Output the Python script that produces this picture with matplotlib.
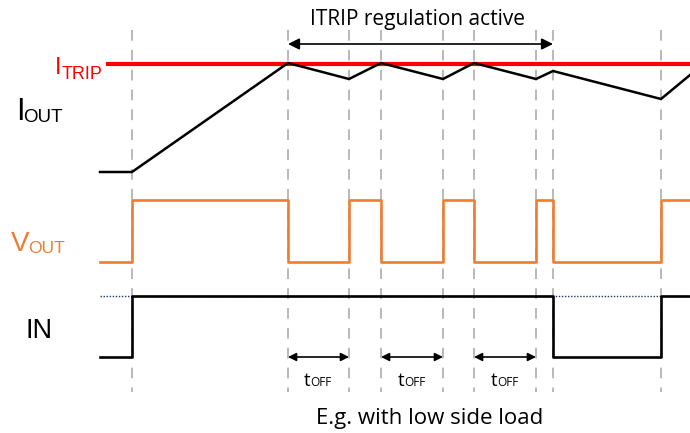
import matplotlib.pyplot as plt

# time marks (x in px) and signal values (y in px)
t_marks = [132, 288, 349, 381, 443, 474, 536, 553, 661]
t_start, t_end = 100, 690

iout_t = [100, 132, 288, 349, 381, 443, 474, 536, 553, 661, 690]
iout_y = [172, 172, 63, 79, 63, 79, 63, 79, 71, 99, 75]
itrip_y = 64

vout_t = [100, 132, 288, 349, 381, 443, 474, 536, 553, 661, 690]
vout_s = [0, 1, 0, 1, 0, 1, 0, 1, 0, 1, 1]
vout_lo, vout_hi = 262, 200

in_t = [100, 132, 553, 661, 690]
in_s = [0, 1, 0, 1, 1]
in_lo, in_hi = 357, 296

toff_spans = [(288, 349), (381, 443), (474, 536)]
active_span = (288, 553)

RED = '#FF0000'
ORANGE = '#ED7D31'
GREY = '#A6A6A6'

fig = plt.figure(figsize=(6.9, 4.33), dpi=100)
ax = fig.add_axes([0, 0, 1, 1])
ax.set_xlim(0, 690)
ax.set_ylim(433, 0)
ax.axis('off')

# dashed time markers
for t in t_marks:
    ax.plot([t, t], [30, 392], color=GREY, lw=1.1, dashes=(7, 6), zorder=1)

# ITRIP threshold
ax.plot([108, t_end], [itrip_y, itrip_y], color=RED, lw=3, zorder=2)

# IOUT
ax.plot(iout_t, iout_y, color='black', lw=1.8, zorder=3, solid_joinstyle='miter')

# VOUT
vy = [vout_hi if s else vout_lo for s in vout_s]
ax.step(vout_t, vy, where='post', color=ORANGE, lw=1.9, zorder=3)

# IN + dotted high reference
ax.plot([t_start, t_end], [in_hi, in_hi], color='#1F3864', lw=1.0, ls=(0, (1, 1.2)), zorder=2)
iy = [in_hi if s else in_lo for s in in_s]
ax.step(in_t, iy, where='post', color='black', lw=1.9, zorder=3)

# arrows
ax.annotate('', xy=(active_span[0], 44), xytext=(active_span[1], 44),
            arrowprops=dict(arrowstyle='<|-|>', color='black', lw=1.2,
                            mutation_scale=17, shrinkA=0, shrinkB=0))
for a, b in toff_spans:
    ax.annotate('', xy=(a, 357), xytext=(b, 357),
                arrowprops=dict(arrowstyle='<|-|>', color='black', lw=1.2,
                                mutation_scale=12, shrinkA=0, shrinkB=0))
    mid = (a + b) / 2
    ax.text(mid - 8, 386, 't', fontsize=13.5, family='Open Sans',
            ha='right', va='baseline')
    ax.text(mid - 8, 386, 'OFF', fontsize=8.5, family='Open Sans',
            ha='left', va='baseline')

ax.text(418, 25, 'ITRIP regulation active', fontsize=15, family='Open Sans',
        ha='center', va='baseline')
ax.text(430, 424, 'E.g. with low side load', fontsize=16, family='Open Sans',
        ha='center', va='baseline')

# signal labels
lab = dict(family='Liberation Sans', va='baseline', ha='left')
ax.text(55, 74, 'I', fontsize=17, color=RED, **lab)
ax.text(62, 79, 'TRIP', fontsize=13, color=RED, **lab)
ax.text(16, 120, 'I', fontsize=22, color='black', **lab)
ax.text(23, 122, 'OUT', fontsize=13.5, color='black', **lab)
ax.text(11, 251, 'V', fontsize=20, color=ORANGE, **lab)
ax.text(28, 253, 'OUT', fontsize=12.5, color=ORANGE, **lab)
ax.text(26, 338, 'IN', fontsize=19.5, color='black', **lab)

fig.savefig('out.png', dpi=100)
